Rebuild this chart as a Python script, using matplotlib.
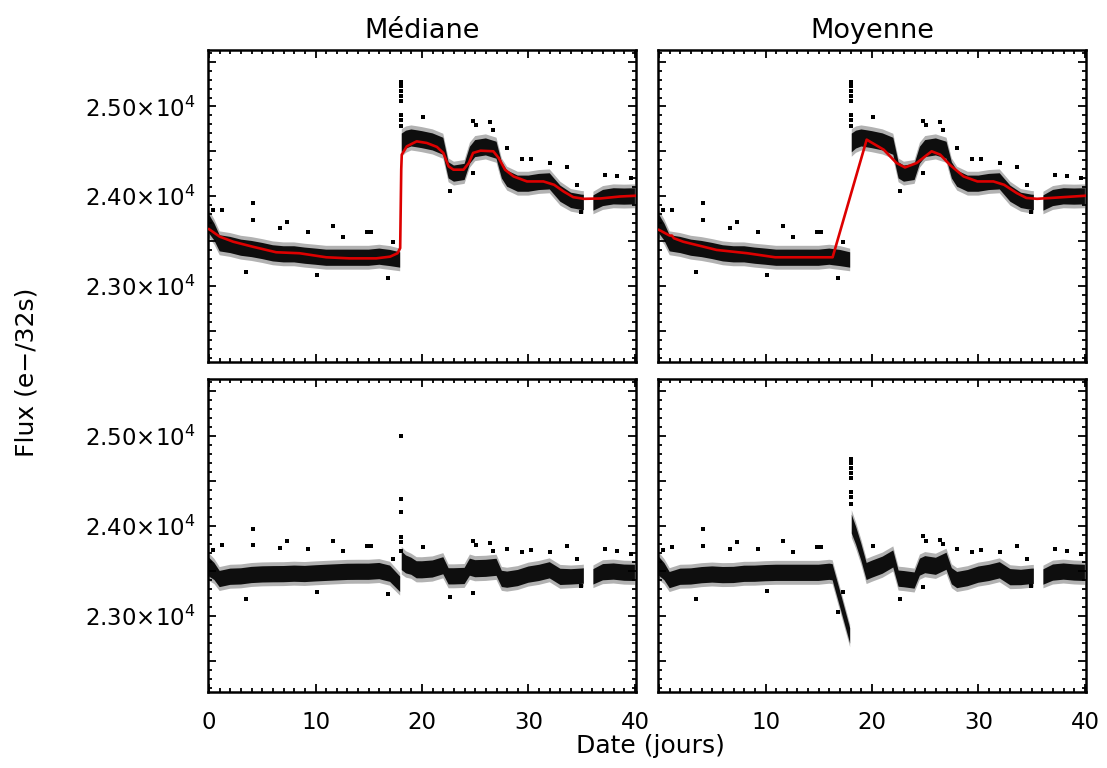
import numpy as np
import matplotlib
matplotlib.use("Agg")
import matplotlib.pyplot as plt
from matplotlib.ticker import MultipleLocator, FixedLocator, FixedFormatter

plt.rcParams['font.family'] = ['DejaVu Sans']
plt.rcParams['mathtext.default'] = 'regular'

# ---- data ----
# observed light-curve: centre of the point cloud and its half-width
days = [0, 0.5, 1, 2, 3, 4, 5, 6, 7, 8, 9, 10, 11, 12, 13, 14, 15, 16, 16.3, 17, 17.95,
        np.nan, 18.1, 18.5, 19, 19.5, 20, 21, 22, 22.5, 23, 24, 24.5, 25, 26, 27, 27.5,
        28, 29, 30, 31, 32, 33, 34, 35, 35.2, np.nan, 36.1, 37, 38, 39, 40]
flux = [23690, 23600, 23474, 23455, 23425, 23410, 23388, 23362, 23351, 23351, 23336,
        23325, 23313, 23313, 23313, 23313, 23313, 23325, 23320, 23310, 23288,
        np.nan, 24593, 24630, 24649, 24640, 24630, 24605, 24556, 24288, 24251, 24270,
        24456, 24530, 24549, 24512, 24288, 24195, 24139, 24139, 24158, 24165, 24027,
        23953, 23931, 23930, np.nan, 23923, 23979, 23998, 23995, 23998]
spread = [110, 100, 95, 95, 95, 95, 95, 95, 95, 95, 95, 95, 95, 95, 95, 95, 95, 95, 95,
          95, 90, np.nan, 110, 105, 100, 100, 100, 100, 100, 95, 95, 95, 100, 100, 100,
          100, 95, 95, 95, 95, 95, 95, 95, 90, 90, 90, np.nan, 90, 95, 95, 95, 95]

# isolated points of the light curve (upper panels)
out_days = [0.38, 1.17, 4.08, 4.1, 6.65, 7.28, 9.32, 11.6, 12.6, 14.8, 15.2, 17.25, 3.5,
            10.1, 16.8, 24.8, 25.1, 26.4, 26.7, 20.1, 28.0, 29.4, 30.2, 32.05, 33.6,
            34.6, 37.2, 38.3, 39.6, 22.6, 24.8, 34.9]
out_flux = [23847, 23847, 23922, 23735, 23642, 23716, 23604, 23668, 23548, 23604, 23604,
            23492, 23157, 23120, 23083, 24835, 24798, 24824, 24742, 24884, 24537, 24414,
            24414, 24370, 24325, 24127, 24239, 24228, 24202, 24052, 24258, 23828]
spike_day = 18.0
spike_flux = [25272, 25227, 25171, 25115, 25059, 24910, 24854, 24779]
spike_resid_median = [25000, 24297, 24148, 23870, 23814, 23722]

# fitted trends (red curves)
median_days = [0, 1.0, 2.26, 4.1, 6.3, 8.5, 11.0, 13.2, 15.7, 17.0, 17.7, 17.95, 18.05,
               18.1, 18.57, 19.5, 20.45, 21.4, 22.0, 22.5, 22.95, 23.9, 24.4, 24.8, 25.5,
               26.7, 27.2, 27.8, 28.6, 29.86, 31.4, 32.4, 33.3, 34.2, 35.2, 36.75, 38.6, 40]
median_flux = [23631, 23548, 23492, 23436, 23374, 23363, 23318, 23306, 23306, 23325, 23363,
               23420, 24300, 24463, 24555, 24611, 24593, 24549, 24482, 24332, 24295, 24295,
               24370, 24482, 24507, 24500, 24426, 24295, 24220, 24164, 24164, 24127, 24052,
               23989, 23970, 23974, 23996, 24004]
mean_days = [0, 1.0, 1.2, 1.4, 2.26, 5.4, 8.3, 10.9, 13.4, 16.3, 19.5, 21.1, 22.3, 23.1,
             24.2, 25.6, 26.4, 27.3, 28.6, 29.9, 31.4, 32.4, 33.6, 34.5, 35.5, 40]
mean_flux = [23623, 23560, 23560, 23530, 23492, 23400, 23363, 23318, 23318, 23318, 24630,
             24518, 24370, 24320, 24370, 24500, 24463, 24351, 24220, 24164, 24164, 24127,
             24034, 23980, 23970, 24004]
resid_offset = 23480

titles = ["Médiane", "Moyenne"]
ytick_vals = [23000, 24000, 25000]
ytick_labels = ["2.30×10$^{4}$", "2.40×10$^{4}$", "2.50×10$^{4}$"]

# ---- figure ----
W, H = 1107, 768
fig = plt.figure(figsize=(W / 100, H / 100), dpi=100)

def frac(x0, y0, x1, y1):
    return [x0 / W, 1 - y1 / H, (x1 - x0) / W, (y1 - y0) / H]

boxes = {
    (0, 0): frac(208, 50, 636, 362),
    (0, 1): frac(658, 50, 1086, 362),
    (1, 0): frac(208, 379, 636, 692),
    (1, 1): frac(658, 379, 1086, 692),
}

d = np.array(days, dtype=float)
f = np.array(flux, dtype=float)
s = np.array(spread, dtype=float)
od = np.array(out_days)
of = np.array(out_flux)
trends = [(np.array(median_days), np.array(median_flux)),
          (np.array(mean_days), np.array(mean_flux))]

def band(ax, x, c, w):
    ax.fill_between(x, c - 1.4 * w, c + 1.4 * w, color='black', alpha=0.30, lw=0)
    ax.fill_between(x, c - 0.95 * w, c + 0.95 * w, color='black', alpha=0.92, lw=0)

red = '#dd0000'
ms_pt = 2.3
for (r, c), box in boxes.items():
    ax = fig.add_axes(box)
    tx, ty = trends[c]
    if r == 0:
        band(ax, d, f, s)
        ax.plot(od, of, 's', color='black', ms=ms_pt, mew=0)
        ax.plot([spike_day] * len(spike_flux), spike_flux, 's', color='black', ms=ms_pt, mew=0)
        ax.plot(tx, ty, color=red, lw=1.9, zorder=5)
        ax.set_title(titles[c], fontsize=19.5, pad=9)
    else:
        valid = ~np.isnan(d)
        tr = np.full_like(d, np.nan)
        tr[valid] = np.interp(d[valid], tx, ty)
        band(ax, d, f - tr + resid_offset, s)
        ax.plot(od, of - np.interp(od, tx, ty) + resid_offset, 's', color='black',
                ms=ms_pt, mew=0)
        if c == 0:
            ax.plot([spike_day] * len(spike_resid_median), spike_resid_median, 's',
                    color='black', ms=ms_pt, mew=0)
        else:
            sp = np.array(spike_flux) - np.interp(spike_day, tx, ty) + resid_offset
            ax.plot([spike_day] * len(sp), sp, 's', color='black', ms=ms_pt, mew=0)

    ax.set_xlim(-0.1, 40.1)
    ax.set_ylim(22150, 25630)
    ax.xaxis.set_major_locator(MultipleLocator(10))
    ax.xaxis.set_minor_locator(MultipleLocator(1))
    ax.yaxis.set_major_locator(MultipleLocator(500))
    ax.yaxis.set_minor_locator(MultipleLocator(100))
    ax.tick_params(which='both', direction='in', top=True, right=True, width=1.3)
    ax.tick_params(which='major', length=6)
    ax.tick_params(which='minor', length=3)
    for sp_ in ax.spines.values():
        sp_.set_linewidth(1.8)

    if c == 0:
        locs = list(ax.yaxis.get_majorticklocs())
        ylabels = []
        for v in locs:
            iv = int(round(v))
            ylabels.append(ytick_labels[ytick_vals.index(iv)] if iv in ytick_vals else "")
        ax.yaxis.set_major_locator(FixedLocator(locs))
        ax.yaxis.set_major_formatter(FixedFormatter(ylabels))
        ax.tick_params(axis='y', labelsize=16.5, pad=9)
    else:
        ax.set_yticklabels([])

    if r == 1:
        xt = [0, 10, 20, 30, 40]
        ax.set_xticks(xt)
        ax.set_xticklabels([str(v) if not (c == 1 and v == 0) else "" for v in xt])
        ax.tick_params(axis='x', labelsize=16.5, pad=14)
    else:
        ax.set_xticklabels([])

fig.text(650 / W, 1 - 746 / H, "Date (jours)", ha='center', va='center', fontsize=18)
fig.text(27 / W, 1 - 372 / H, "Flux (e−/32s)", ha='center', va='center', rotation=90,
         fontsize=18)

fig.savefig("out.png", dpi=100)
